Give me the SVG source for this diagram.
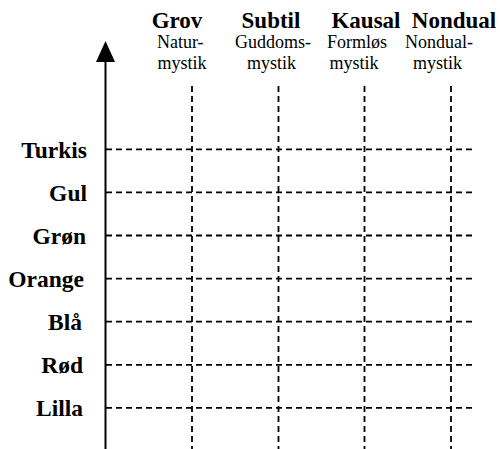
<svg xmlns="http://www.w3.org/2000/svg" width="500" height="449" viewBox="0 0 500 449">
<style>
.h{font-family:"Liberation Serif","Times New Roman",serif;font-weight:bold;font-size:23px;fill:#000;text-anchor:middle}
.s{font-family:"Liberation Serif","Times New Roman",serif;font-size:18px;fill:#000;text-anchor:start}
.r{font-family:"Liberation Serif","Times New Roman",serif;font-weight:bold;font-size:23.5px;fill:#000;text-anchor:end}
.d{stroke:#000;stroke-width:1.8;stroke-dasharray:6 4;fill:none}
.ax{stroke:#000;stroke-width:2;fill:none}
</style>
<rect width="500" height="449" fill="#fff"/>
<g id="columns">
<g id="col-grov"><text class="h" x="177" y="28">Grov</text><text class="s" x="157" y="48">Natur-</text><text class="s" x="157.5" y="69">mystik</text></g>
<g id="col-subtil"><text class="h" x="271" y="28">Subtil</text><text class="s" x="235" y="48">Guddoms-</text><text class="s" x="247" y="69">mystik</text></g>
<g id="col-kausal"><text class="h" x="366" y="28">Kausal</text><text class="s" x="327" y="48">Formløs</text><text class="s" x="329.5" y="69">mystik</text></g>
<g id="col-nondual"><text class="h" x="454" y="28">Nondual</text><text class="s" x="405" y="48">Nondual-</text><text class="s" x="413" y="69">mystik</text></g>
</g>
<g id="rows">
<g id="row-turkis"><text class="r" x="87" y="157.5">Turkis</text></g>
<g id="row-gul"><text class="r" x="87" y="200.5">Gul</text></g>
<g id="row-gron"><text class="r" x="86" y="243.5">Grøn</text></g>
<g id="row-orange"><text class="r" x="84" y="286.5">Orange</text></g>
<g id="row-bla"><text class="r" x="82" y="329.5">Blå</text></g>
<g id="row-rod"><text class="r" x="83" y="372.5">Rød</text></g>
<g id="row-lilla"><text class="r" x="83" y="415.5">Lilla</text></g>
</g>
<g id="connectors">
<line class="ax" x1="105.5" y1="58" x2="105.5" y2="449"/>
<polygon points="105.5,41 96,62 115,62" fill="#000"/>
<line class="d" x1="192" y1="86" x2="192" y2="449"/>
<line class="d" x1="278.5" y1="86" x2="278.5" y2="449"/>
<line class="d" x1="364.5" y1="86" x2="364.5" y2="449"/>
<line class="d" x1="451" y1="86" x2="451" y2="449"/>
<line class="d" x1="106" y1="149.3" x2="474" y2="149.3"/>
<line class="d" x1="106" y1="192.4" x2="474" y2="192.4"/>
<line class="d" x1="106" y1="235.5" x2="474" y2="235.5"/>
<line class="d" x1="106" y1="278.6" x2="474" y2="278.6"/>
<line class="d" x1="106" y1="321.7" x2="474" y2="321.7"/>
<line class="d" x1="106" y1="364.8" x2="474" y2="364.8"/>
<line class="d" x1="106" y1="407.9" x2="474" y2="407.9"/>
</g>
</svg>
